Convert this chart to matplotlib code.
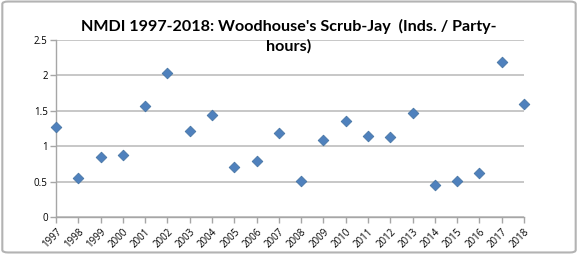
import matplotlib
matplotlib.use('Agg')
import matplotlib.pyplot as plt
from matplotlib.patches import FancyBboxPatch

years = list(range(1997, 2019))
values = [1.27, 0.55, 0.85, 0.875, 1.57, 2.03, 1.22, 1.44, 0.71, 0.795, 1.19,
          0.51, 1.09, 1.355, 1.14, 1.13, 1.47, 0.45, 0.51, 0.62, 2.19, 1.60]
yticks = [0, 0.5, 1, 1.5, 2, 2.5]
ytick_labels = ['0', '0.5', '1', '1.5', '2', '2.5']
title = "NMDI 1997-2018: Woodhouse's Scrub-Jay  (Inds. / Party-\nhours)"

plt.rcParams['font.family'] = ['Open Sans', 'DejaVu Sans']

fig = plt.figure(figsize=(5.78, 2.54), dpi=100)

# outer chart border
border = FancyBboxPatch((0.004, 0.006), 0.992, 0.988, boxstyle='round,pad=0,rounding_size=0.01',
                        transform=fig.transFigure, facecolor='none', edgecolor='#b3b3b3',
                        linewidth=1.5)
fig.patches.append(border)

ax = fig.add_axes([0.0969, 0.1457, 0.8097, 0.6968])
ax.set_xlim(1997, 2018)
ax.set_ylim(0, 2.5)

ax.grid(axis='y', color='#bdbdbd', linewidth=1.2)
ax.set_axisbelow(True)

ax.scatter(years, values, marker='D', s=30, color='#4f81bd', edgecolors='#41709f',
           linewidths=0.5, zorder=3, clip_on=False)

for s in ['top', 'right']:
    ax.spines[s].set_visible(False)
for s in ['left', 'bottom']:
    ax.spines[s].set_color('#a6a6a6')
    ax.spines[s].set_linewidth(1)

ax.set_yticks(yticks)
ax.set_yticklabels(ytick_labels, fontsize=7)
ax.set_xticks(years)
ax.set_xticklabels([str(y) for y in years], fontsize=7, rotation=45, ha='right',
                   rotation_mode='anchor')
ax.tick_params(axis='both', color='#a6a6a6', length=4, width=1, pad=2)
ax.tick_params(axis='x', pad=3)

fig.text(0.5, 0.858, title, ha='center', va='center', multialignment='center',
         fontsize=11.6, fontweight='bold', linespacing=1.4, family=['Lato', 'DejaVu Sans'])

fig.savefig('out.png', dpi=100)
